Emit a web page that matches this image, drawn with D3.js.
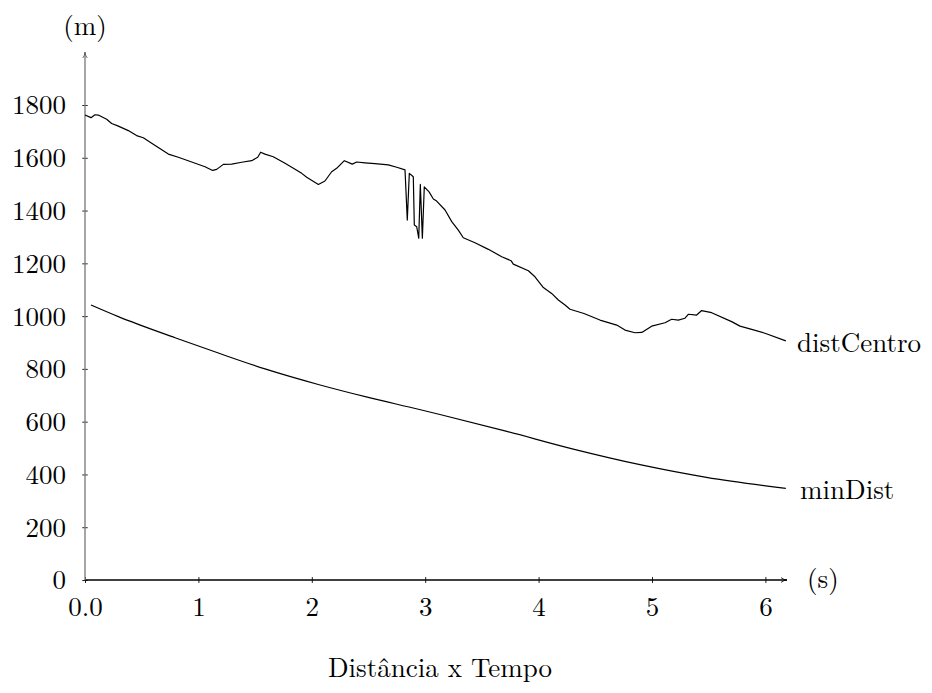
<!DOCTYPE html>
<html>
<head>
<meta charset="utf-8">
<script src="https://cdn.jsdelivr.net/npm/d3@7"></script>
<style>
  body { margin: 0; background: #fff; }
</style>
</head>
<body>
<svg id="chart" width="932" height="693"></svg>
<script>
// ─── data ─────────────────────────────────────────────────────────────────
const centroT = [0, 0.053, 0.088, 0.117, 0.191, 0.235, 0.294, 0.382, 0.455, 0.514,
  0.588, 0.735, 0.823, 0.941, 1.058, 1.126, 1.161, 1.22, 1.293, 1.382,
  1.47, 1.523, 1.549, 1.587, 1.66, 1.764, 1.911, 1.955, 2.058, 2.116,
  2.175, 2.219, 2.287, 2.357, 2.396, 2.469, 2.557, 2.675, 2.749, 2.822,
  2.842, 2.86, 2.895, 2.904, 2.925, 2.943, 2.957, 2.975, 2.992, 3.034,
  3.072, 3.101, 3.175, 3.234, 3.292, 3.336, 3.439, 3.557, 3.675, 3.757,
  3.777, 3.91, 3.968, 4.042, 4.115, 4.174, 4.233, 4.277, 4.4, 4.541,
  4.689, 4.762, 4.85, 4.91, 4.997, 5.115, 5.173, 5.232, 5.291, 5.32,
  5.394, 5.438, 5.526, 5.702, 5.776, 5.879, 5.996, 6.18];
const centroV = [1762, 1752, 1763, 1762, 1746, 1730, 1720, 1703, 1684, 1676,
  1655, 1614, 1602, 1584, 1566, 1552, 1556, 1575, 1576, 1583,
  1589, 1602, 1621, 1614, 1604, 1579, 1541, 1526, 1499, 1512,
  1547, 1560, 1589, 1576, 1584, 1581, 1578, 1573, 1564, 1554,
  1364, 1541, 1528, 1345, 1339, 1295, 1499, 1295, 1490, 1471,
  1444, 1436, 1402, 1358, 1326, 1297, 1278, 1253, 1225, 1210,
  1197, 1172, 1149, 1108, 1086, 1061, 1042, 1026, 1010, 985,
  966, 947, 937, 938, 962, 975, 988, 985, 992, 1007,
  1004, 1021, 1013, 979, 962, 950, 935, 906];

const minT = [0.053, 0.294, 0.794, 1.176, 1.587, 2.057, 2.498, 2.94, 3.13,
  3.72, 4.306, 4.894, 5.48, 6.18];
const minV = [1042, 998, 918, 860, 800, 741, 692, 647, 627,
  563, 496, 437, 389, 347];

const yTicks      = [0, 200, 400, 600, 800, 1000, 1200, 1400, 1600, 1800];
const xTicks      = [0, 1, 2, 3, 4, 5, 6];
const xTickLabels = ["0.0", "1", "2", "3", "4", "5", "6"];
const seriesNames = ["distCentro", "minDist"];

// ─── setup ───────────────────────────────────────────────────────────────
const svg = d3.select("#chart");
const FS = 27;
const FONT = '"Latin Modern Roman", "CMU Serif", "Liberation Serif", serif';

const x = d3.scaleLinear().domain([0, 6]).range([85, 765.4]);
const y = d3.scaleLinear().domain([0, 1800]).range([580, 105]);
const xEnd = x(6.19);
const yEnd = y(2000);

svg.append("defs").selectAll("marker")
  .data([["arrK", "#000"], ["arrG", "#555"]])
  .join("marker")
    .attr("id", d => d[0])
    .attr("viewBox", "0 0 10 10")
    .attr("refX", 10).attr("refY", 5)
    .attr("markerWidth", 6).attr("markerHeight", 6)
    .attr("markerUnits", "userSpaceOnUse")
    .attr("orient", "auto")
  .append("path")
    .attr("d", "M0,1 Q5,5 10,5 Q5,5 0,9")
    .attr("fill", "none")
    .attr("stroke", d => d[1])
    .attr("stroke-width", 1.4);

// ─── axes ────────────────────────────────────────────────────────────────
const yAxisG = svg.append("g").attr("transform", `translate(${x(0)},0)`)
  .call(d3.axisLeft(y).tickValues(yTicks).tickFormat(d => d).tickSize(3).tickPadding(0));
yAxisG.select(".domain").remove();
yAxisG.selectAll(".tick line").attr("x1", -2.7).attr("x2", 2.7).attr("stroke", "#222");
yAxisG.selectAll(".tick text")
  .attr("x", -19).attr("dy", "0.33em")
  .attr("font-size", FS).style("font-family", FONT);

const xAxisG = svg.append("g").attr("transform", `translate(0,${y(0)})`)
  .call(d3.axisBottom(x).tickValues(xTicks).tickFormat((d, i) => xTickLabels[i]).tickSize(3));
xAxisG.select(".domain").remove();
xAxisG.selectAll(".tick line").attr("y1", -3).attr("y2", 3).attr("stroke", "#222");
xAxisG.selectAll(".tick text")
  .attr("y", 35.5).attr("dy", null)
  .attr("font-size", FS).style("font-family", FONT);

// axis lines with arrows
svg.append("line")
  .attr("x1", x(0)).attr("x2", xEnd)
  .attr("y1", y(0)).attr("y2", y(0))
  .attr("stroke", "#000").attr("stroke-width", 1.3)
  .attr("marker-end", "url(#arrK)");
svg.append("line")
  .attr("x1", x(0)).attr("x2", x(0))
  .attr("y1", y(0)).attr("y2", yEnd)
  .attr("stroke", "#808080").attr("stroke-width", 1.4)
  .attr("marker-end", "url(#arrG)");

// unit labels
svg.append("text").attr("x", x(0)).attr("y", 35)
  .attr("text-anchor", "middle").attr("font-size", FS)
  .style("font-family", FONT).text("(m)");
svg.append("text").attr("x", 807).attr("y", y(0) + 8)
  .attr("font-size", FS).style("font-family", FONT).text("(s)");

// ─── lines ───────────────────────────────────────────────────────────────
const lineRaw    = d3.line().x(d => x(d[0])).y(d => y(d[1]));
const lineSmooth = d3.line().x(d => x(d[0])).y(d => y(d[1])).curve(d3.curveMonotoneX);
const series = [
  d3.zip(centroT, centroV),
  d3.zip(minT, minV)
];

svg.selectAll(".series")
  .data(series)
  .join("path")
    .attr("class", "series")
    .attr("fill", "none")
    .attr("stroke", "#000")
    .attr("stroke-width", 1.2)
    .attr("stroke-linejoin", "round")
    .attr("d", (d, i) => i === 0 ? lineRaw(d) : lineSmooth(d));

svg.selectAll(".series-label")
  .data(series)
  .join("text")
    .attr("class", "series-label")
    .attr("x", (d, i) => [797, 800][i])
    .attr("y", d => y(d[d.length - 1][1]) + 11)
    .attr("font-size", FS)
    .style("font-family", FONT)
    .text((d, i) => seriesNames[i]);

// ─── title ───────────────────────────────────────────────────────────────
svg.append("text")
  .attr("x", 440).attr("y", 677)
  .attr("text-anchor", "middle")
  .attr("font-size", FS)
  .style("font-family", FONT)
  .text("Distância x Tempo");
</script>
</body>
</html>
